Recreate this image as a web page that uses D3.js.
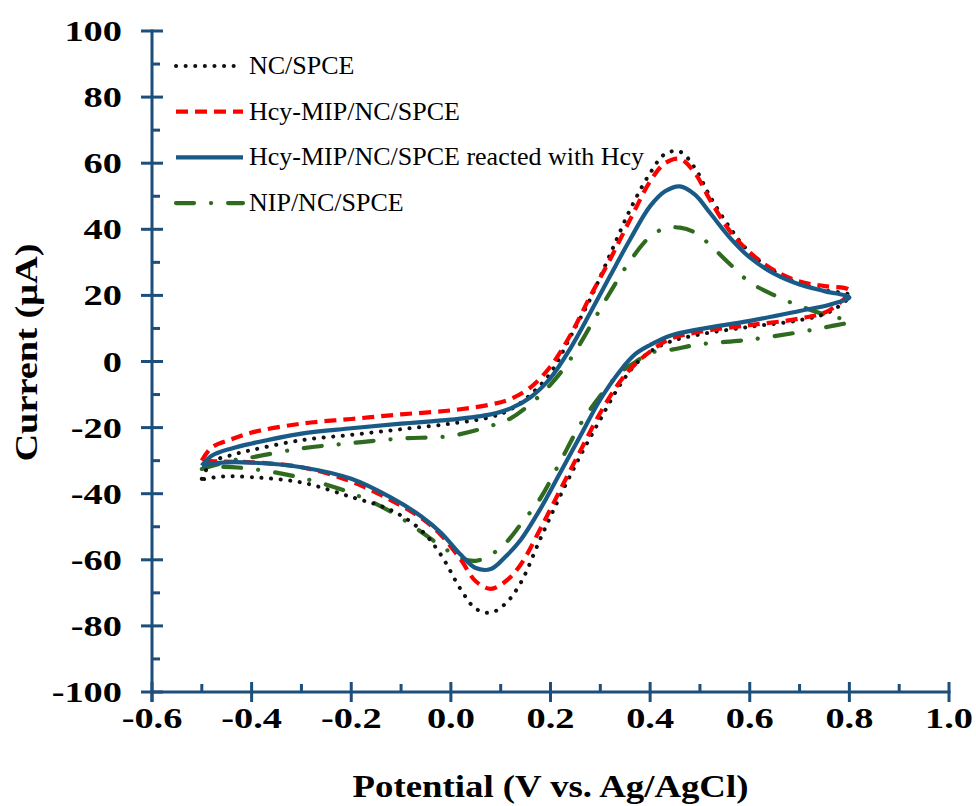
<!DOCTYPE html>
<html>
<head>
<meta charset="utf-8">
<script src="https://cdn.jsdelivr.net/npm/d3@7"></script>
<style>
  body { margin: 0; background: #fff; }
  svg { display: block; }
</style>
</head>
<body>
<div id="root"></div>
<script>
// potential grid for forward (anodic) and reverse (cathodic) sweep, V
var forwardV = [-0.5, -0.48, -0.44, -0.4, -0.3, -0.2, -0.1, 0.0, 0.08, 0.12, 0.16, 0.2, 0.24, 0.28,
                0.32, 0.36, 0.4, 0.43, 0.46, 0.49, 0.52, 0.56, 0.6, 0.65, 0.7, 0.75, 0.8];
var reverseV = [0.8, 0.76, 0.7, 0.6, 0.5, 0.44, 0.4, 0.37, 0.34, 0.3, 0.26, 0.22, 0.18, 0.14, 0.11,
                0.08, 0.05, 0.02, -0.02, -0.06, -0.12, -0.2, -0.3, -0.4, -0.46, -0.5];

// currents in uA
var ncFwd = [-35.5, -30.5, -28.3, -26.8, -23.8, -22.2, -20.5, -18.8, -16.8, -14.5, -10, -3.5, 7.5, 19,
             32.5, 46, 57, 62.8, 63.5, 58.5, 50, 40.5, 33, 27.2, 23.5, 21.5, 20];
var ncRev = [20, 15, 12.5, 10.5, 8.2, 6, 3, -1, -7, -17.5, -28.5, -40.5, -53.5, -67, -73.2,
             -76, -74.8, -69, -58.5, -51, -45, -41, -36.6, -35, -34.8, -35.7];

var mipFwd = [-30, -26, -23.5, -21.5, -18.8, -17.4, -16, -14.8, -13, -11.3, -7.8, -1.5, 8, 19.8,
              31, 43, 54.5, 60, 61.3, 57, 49, 39.5, 33, 27.5, 24.2, 22.8, 21.5];
var mipRev = [21.5, 15.5, 13, 11, 9, 6.8, 3, -0.8, -6, -15.5, -27, -38.7, -50.5, -61.5, -66.5,
              -68.8, -66.5, -60, -52.5, -47.3, -42, -36.3, -32, -30.5, -30.3, -30];

var hcyFwd = [-31.5, -28.5, -26.3, -24.8, -21.8, -20.2, -18.8, -17.6, -16, -14.2, -10.8, -5, 4, 14.8,
              26, 37, 47, 51.5, 53, 50.5, 45, 37.5, 31.5, 26.5, 23.3, 21.3, 19.4];
var hcyRev = [19.4, 17.2, 15.3, 12.3, 9.8, 7.8, 5, 2.2, -2.8, -11.5, -22.5, -33.5, -44.5, -54, -59,
              -62.8, -62.5, -58.5, -51.8, -46.8, -41.2, -35.5, -32, -30.6, -30.6, -31.5];

var nipFwd = [-32.5, -31.6, -30, -29, -26.3, -24.7, -23.3, -22.5, -19.5, -17.2, -12.8, -7, 0.7, 10.7,
              21, 30.5, 37.8, 40.3, 40.5, 39, 35.3, 29.5, 24, 20, 16.8, 14.2, 12.1];
var nipRev = [12.1, 10.6, 8.9, 6.6, 5.2, 3.5, 2.6, -0.2, -3.4, -10.4, -19, -30.2, -41.3, -49.3, -54.9,
              -58.5, -60.3, -59.5, -55.8, -51.5, -45.5, -39.8, -35.2, -32.5, -31.9, -32.5];

var seriesNames = ["NC/SPCE", "Hcy-MIP/NC/SPCE", "Hcy-MIP/NC/SPCE reacted with Hcy", "NIP/NC/SPCE"];

var xTicks = [-0.6, -0.4, -0.2, 0.0, 0.2, 0.4, 0.6, 0.8, 1.0];
var yTicks = [-100, -80, -60, -40, -20, 0, 20, 40, 60, 80, 100];

var width = 976, height = 806,
    margin = {top: 31, right: 27, bottom: 114, left: 152};

var axisColor = "#1c4f7c";

var styles = [
    {color: "#111111", width: 4, dash: "0.1 9.5", cap: "round"},
    {color: "#ff0000", width: 4.2, dash: "12 7", cap: "butt"},
    {color: "#1a5a87", width: 4.2, dash: null, cap: "butt"},
    {color: "#2e6b1f", width: 4.2, dash: "18 17 0.1 17", cap: "round"}
];

function loop(fwd, rev) {
    var pts = forwardV.map(function (v, i) { return [v, fwd[i]]; });
    reverseV.forEach(function (v, i) { if (i > 0) pts.push([v, rev[i]]); });
    return pts;
}
var curves = [loop(ncFwd, ncRev), loop(mipFwd, mipRev), loop(hcyFwd, hcyRev), loop(nipFwd, nipRev)];

var x = d3.scaleLinear().domain([-0.6, 1.0]).range([margin.left, width - margin.right]);
var y = d3.scaleLinear().domain([-100, 100]).range([height - margin.bottom, margin.top]);

var svg = d3.select("#root").append("svg")
    .attr("width", width)
    .attr("height", height)
    .style("font-family", "'Liberation Serif', 'Times New Roman', serif");

// curves, drawn so the solid blue ends on top of red and black like the original
var line = d3.line()
    .x(function (d) { return x(d[0]); })
    .y(function (d) { return y(d[1]); })
    .curve(d3.curveCatmullRom.alpha(0.5));

[3, 0, 1, 2].forEach(function (k) {
    var s = styles[k];
    svg.append("path")
        .datum(curves[k])
        .attr("d", line)
        .attr("fill", "none")
        .attr("stroke", s.color)
        .attr("stroke-width", s.width)
        .attr("stroke-dasharray", s.dash)
        .attr("stroke-linecap", s.cap)
        .attr("stroke-linejoin", "round");
});

// axes: major ticks cross the line, minor ticks point inside
var xMinor = d3.range(-0.5, 1.0, 0.2);
var yMinor = d3.range(-90, 100, 20);

var gx = svg.append("g").attr("stroke", axisColor).attr("stroke-width", 3);
gx.append("line").attr("x1", x(-0.6) - 1.5).attr("x2", x(1.0) + 1.5).attr("y1", y(-100)).attr("y2", y(-100));
gx.selectAll(".maj").data(xTicks).enter().append("line")
    .attr("x1", function (d) { return x(d); }).attr("x2", function (d) { return x(d); })
    .attr("y1", y(-100) - 10).attr("y2", y(-100) + 10);
gx.selectAll(".min").data(xMinor).enter().append("line")
    .attr("x1", function (d) { return x(d); }).attr("x2", function (d) { return x(d); })
    .attr("y1", y(-100) - 8).attr("y2", y(-100));

var gy = svg.append("g").attr("stroke", axisColor).attr("stroke-width", 3);
gy.append("line").attr("x1", x(-0.6)).attr("x2", x(-0.6)).attr("y1", y(100) - 1.5).attr("y2", y(-100) + 10);
gy.selectAll(".maj").data(yTicks).enter().append("line")
    .attr("x1", x(-0.6) - 11).attr("x2", x(-0.6) + 11)
    .attr("y1", function (d) { return y(d); }).attr("y2", function (d) { return y(d); });
gy.selectAll(".min").data(yMinor).enter().append("line")
    .attr("x1", x(-0.6)).attr("x2", x(-0.6) + 8)
    .attr("y1", function (d) { return y(d); }).attr("y2", function (d) { return y(d); });

// the original type is wide, so stretch it sideways
svg.selectAll(".xl").data(xTicks).enter().append("text")
    .attr("transform", function (d) { return "translate(" + x(d) + "," + (y(-100) + 36) + ") scale(1.28,1)"; })
    .attr("text-anchor", "middle")
    .attr("font-size", 30).attr("font-weight", "bold")
    .text(function (d) { return d.toFixed(1); });

svg.selectAll(".yl").data(yTicks).enter().append("text")
    .attr("transform", function (d) { return "translate(" + (x(-0.6) - 30) + "," + (y(d) + 10) + ") scale(1.28,1)"; })
    .attr("text-anchor", "end")
    .attr("font-size", 30).attr("font-weight", "bold")
    .text(function (d) { return d; });

svg.append("text")
    .attr("transform", "translate(" + (x(-0.6) + x(1.0)) / 2 + ",797) scale(1.15,1)")
    .attr("text-anchor", "middle")
    .attr("font-size", 32).attr("font-weight", "bold")
    .text("Potential (V vs. Ag/AgCl)");

svg.append("text")
    .attr("transform", "translate(37," + (y(0) - 9) + ") rotate(-90) scale(1.2,1)")
    .attr("text-anchor", "middle")
    .attr("font-size", 32).attr("font-weight", "bold")
    .text("Current (\u03bcA)");

// legend
var legend = svg.append("g");
seriesNames.forEach(function (name, i) {
    var s = styles[i], ly = 66 + i * 45.7;
    legend.append("line")
        .attr("x1", 176).attr("x2", 243).attr("y1", ly).attr("y2", ly)
        .attr("stroke", s.color).attr("stroke-width", s.width)
        .attr("stroke-dasharray", s.dash).attr("stroke-linecap", s.cap);
    legend.append("text")
        .attr("x", 249).attr("y", ly + 8)
        .attr("font-size", 26)
        .text(name);
});
</script>
</body>
</html>
